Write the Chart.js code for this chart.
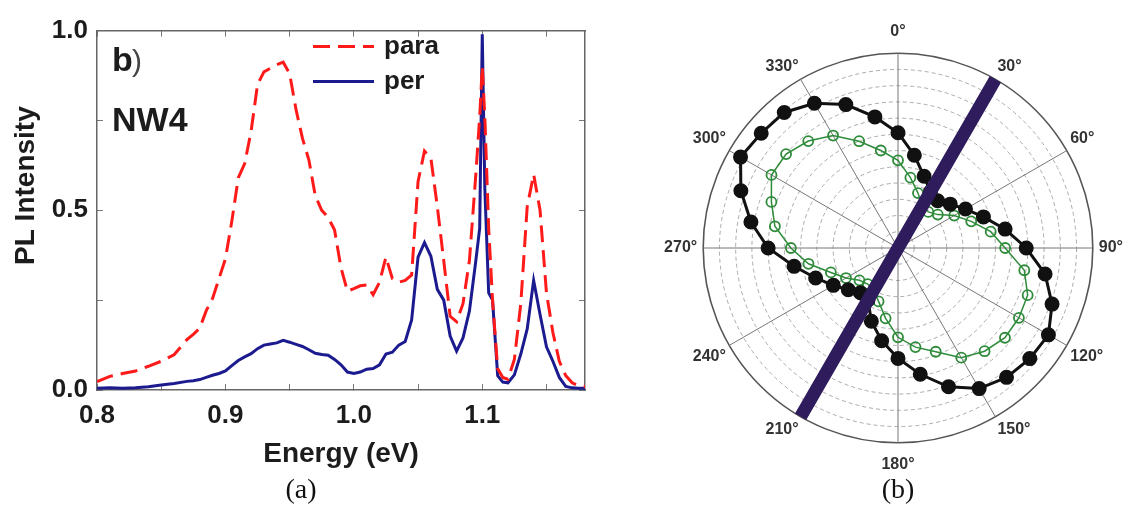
<!DOCTYPE html>
<html>
<head>
<meta charset="utf-8">
<script src="https://cdn.jsdelivr.net/npm/chart.js@4.4.1/dist/chart.umd.min.js"></script>
<style>
  html, body { margin: 0; padding: 0; background: #fff; overflow: hidden; }
  body { width: 1130px; height: 509px; position: relative; }
  #specBox { position: absolute; left: 0; top: 0; width: 600px; height: 475px; }
  #polarBox { position: absolute; left: 659px; top: 22px; width: 470px; height: 452px; }
  .cap { position: absolute; top: 473px; width: 80px; text-align: center;
         font: 28px "Liberation Serif", serif; color: #111; }
</style>
</head>
<body>
<div id="specBox"><canvas id="spec"></canvas></div>
<div id="polarBox"><canvas id="polar"></canvas></div>
<div class="cap" style="left:261px">(a)</div>
<div class="cap" style="left:858px">(b)</div>
<script>
// ---- panel (a): PL spectra of NW4 ----
var energy = [
  0.800, 0.810, 0.820, 0.830, 0.840, 0.850, 0.860, 0.870, 0.875, 0.880,
  0.885, 0.890, 0.895, 0.900, 0.905, 0.910, 0.915, 0.920, 0.925, 0.930,
  0.935, 0.940, 0.945, 0.950, 0.955, 0.960, 0.965, 0.970, 0.975, 0.980,
  0.985, 0.990, 0.995, 1.000, 1.005, 1.010, 1.015, 1.020, 1.025, 1.030,
  1.035, 1.040, 1.045, 1.050, 1.055, 1.060, 1.065, 1.070, 1.075, 1.080,
  1.085, 1.090, 1.095, 1.098, 1.100, 1.102, 1.105, 1.108, 1.112, 1.116,
  1.120, 1.125, 1.130, 1.135, 1.140, 1.145, 1.150, 1.155, 1.160, 1.165,
  1.170, 1.175, 1.180
];
var para = [
  0.023, 0.038, 0.046, 0.053, 0.066, 0.080, 0.098, 0.140, 0.155, 0.172,
  0.220, 0.255, 0.310, 0.365, 0.470, 0.590, 0.630, 0.720, 0.850, 0.885,
  0.895, 0.905, 0.912, 0.880, 0.780, 0.700, 0.640, 0.540, 0.500, 0.480,
  0.445, 0.340, 0.275, 0.282, 0.290, 0.292, 0.265, 0.300, 0.370, 0.310,
  0.300, 0.305, 0.320, 0.580, 0.665, 0.645, 0.510, 0.360, 0.205, 0.190,
  0.240, 0.360, 0.600, 0.760, 0.900, 0.760, 0.450, 0.250, 0.060, 0.035,
  0.030, 0.085, 0.240, 0.510, 0.600, 0.500, 0.270, 0.160, 0.080, 0.040,
  0.020, 0.012, 0.010
];
var per = [
  0.005, 0.006, 0.005, 0.006, 0.009, 0.014, 0.018, 0.024, 0.026, 0.029,
  0.035, 0.041, 0.046, 0.053, 0.068, 0.082, 0.092, 0.101, 0.115, 0.125,
  0.128, 0.131, 0.138, 0.133, 0.127, 0.121, 0.112, 0.102, 0.099, 0.097,
  0.085, 0.070, 0.050, 0.046, 0.050, 0.058, 0.060, 0.070, 0.100, 0.105,
  0.125, 0.135, 0.195, 0.370, 0.410, 0.372, 0.280, 0.250, 0.150, 0.108,
  0.145, 0.220, 0.360, 0.450, 0.990, 0.560, 0.270, 0.250, 0.040, 0.022,
  0.020, 0.042, 0.100, 0.170, 0.305, 0.210, 0.120, 0.080, 0.035, 0.010,
  0.006, 0.005, 0.005
];
var xTicks = [0.8, 0.85, 0.9, 0.95, 1.0, 1.05, 1.1, 1.15];
var yTicks = [0, 0.25, 0.5, 0.75, 1.0];

// ---- panel (b): polarisation dependence ----
var angles = [
  0, 10, 20, 30, 40, 50, 60, 70, 80, 90, 100, 110,
  120, 130, 140, 150, 160, 170, 180, 190, 200, 210, 220, 230,
  240, 250, 260, 270, 280, 290, 300, 310, 320, 330, 340, 350
];
var filled = [
  0.71, 0.58, 0.47, 0.40, 0.38, 0.42, 0.48, 0.56, 0.67, 0.79, 0.92, 1.01,
  1.07, 1.06, 1.04, 1.00, 0.91, 0.79, 0.68, 0.58, 0.48, 0.37, 0.36, 0.40,
  0.46, 0.54, 0.65, 0.80, 0.92, 1.03, 1.12, 1.10, 1.09, 1.03, 0.94, 0.82
];
var open = [
  0.54, 0.44, 0.36, 0.30, 0.29, 0.32, 0.40, 0.48, 0.58, 0.66, 0.79, 0.85,
  0.86, 0.86, 0.83, 0.78, 0.68, 0.62, 0.55, 0.44, 0.35, 0.30, 0.29, 0.31,
  0.37, 0.44, 0.56, 0.66, 0.77, 0.83, 0.90, 0.90, 0.86, 0.80, 0.70, 0.61
];
var wireAngles = [30, 210];
var rMax = 1.2;

var font = 'Liberation Sans';
var ink = '#1c1c1c';

function pts(ys) {
  return energy.map(function (e, i) { return { x: e, y: ys[i] }; });
}
function setTicks(list) {
  return function (s) { s.ticks = list.map(function (v) { return { value: v }; }); };
}

// legend, panel tag and y title (sits a bit above centre in the original)
var specDecor = {
  id: 'specDecor',
  afterDatasetsDraw: function (chart) {
    var ctx = chart.ctx, a = chart.chartArea;
    ctx.save();
    chart.data.datasets.forEach(function (ds, i) {
      var y = a.top + 16 + i * 35;
      ctx.strokeStyle = ds.borderColor;
      ctx.lineWidth = ds.borderWidth;
      ctx.setLineDash(ds.borderDash || []);
      ctx.beginPath();
      ctx.moveTo(a.left + 216, y);
      ctx.lineTo(a.left + 277, y);
      ctx.stroke();
      ctx.setLineDash([]);
      ctx.fillStyle = ink;
      ctx.font = 'bold 26px ' + font;
      ctx.textBaseline = 'alphabetic';
      ctx.fillText(ds.label, a.left + 287, y + 7);
    });
    ctx.fillStyle = ink;
    ctx.font = 'bold 34px ' + font;
    ctx.fillText('b', a.left + 15, a.top + 40);
    ctx.font = '30px ' + font;
    ctx.fillStyle = '#444';
    ctx.fillText(')', a.left + 35, a.top + 40);
    ctx.fillStyle = ink;
    ctx.font = 'bold 34px ' + font;
    ctx.fillText('NW4', a.left + 15, a.top + 100);

    ctx.translate(26, a.top + 155);
    ctx.rotate(-Math.PI / 2);
    ctx.textAlign = 'center';
    ctx.textBaseline = 'middle';
    ctx.font = 'bold 28px ' + font;
    ctx.fillText('PL Intensity', 0, 0);
    ctx.restore();
  }
};

var tickGrid = { drawOnChartArea: false, tickLength: -6, color: '#777', lineWidth: 1 };
var frame = { color: '#666', width: 1.5 };

new Chart(document.getElementById('spec'), {
  type: 'line',
  data: {
    datasets: [
      {
        label: 'para',
        data: pts(para),
        borderColor: '#ff1a1a',
        borderWidth: 3,
        borderDash: [17, 8],
        pointRadius: 0,
        fill: false
      },
      {
        label: 'per',
        data: pts(per),
        borderColor: '#1b1b8f',
        borderWidth: 3,
        pointRadius: 0,
        fill: false
      }
    ]
  },
  options: {
    responsive: true,
    maintainAspectRatio: false,
    animation: false,
    layout: { padding: { top: 30, right: 15, left: 0, bottom: 0 } },
    plugins: { legend: { display: false }, tooltip: { enabled: false } },
    elements: { line: { tension: 0 } },
    scales: {
      x: {
        type: 'linear', position: 'bottom', min: 0.8, max: 1.18,
        afterBuildTicks: setTicks(xTicks),
        afterFit: function (s) { s.height = 85; },
        grid: tickGrid,
        border: frame,
        ticks: {
          padding: 16, color: ink, maxRotation: 0, autoSkip: false,
          font: { family: font, size: 26, weight: 'bold' },
          callback: function (v) { return Math.round(v * 100) % 10 === 0 ? v.toFixed(1) : ''; }
        },
        title: {
          display: true, text: 'Energy (eV)', color: ink,
          font: { family: font, size: 28, weight: 'bold' },
          padding: { top: 0, bottom: 4 }
        }
      },
      xTop: {
        type: 'linear', position: 'top', min: 0.8, max: 1.18,
        afterBuildTicks: setTicks(xTicks),
        afterFit: function (s) { s.height = 0; },
        grid: tickGrid,
        border: frame,
        ticks: { display: false }
      },
      y: {
        min: 0, max: 1,
        afterBuildTicks: setTicks(yTicks),
        afterFit: function (s) { s.width = 97; },
        grid: tickGrid,
        border: frame,
        ticks: {
          padding: 15, color: ink,
          font: { family: font, size: 26, weight: 'bold' },
          callback: function (v) { return Math.round(v * 100) % 50 === 0 ? v.toFixed(1) : ''; }
        }
      },
      yRight: {
        position: 'right', min: 0, max: 1,
        afterBuildTicks: setTicks(yTicks),
        afterFit: function (s) { s.width = 0; },
        grid: tickGrid,
        border: frame,
        ticks: { display: false }
      }
    }
  },
  plugins: [specDecor]
});

new Chart(document.getElementById('polar'), {
  type: 'radar',
  data: {
    labels: angles,
    datasets: [
      {
        label: 'wire',
        data: angles.map(function (a) { return wireAngles.indexOf(a) >= 0 ? rMax : null; }),
        borderColor: '#2f1c5c',
        borderWidth: 13,
        borderCapStyle: 'butt',
        borderJoinStyle: 'bevel',
        spanGaps: true,
        pointRadius: 0,
        fill: false
      },
      {
        label: 'filled',
        data: filled,
        borderColor: '#111',
        borderWidth: 3,
        pointRadius: 6,
        pointBackgroundColor: '#111',
        pointBorderColor: '#111',
        fill: false
      },
      {
        label: 'open',
        data: open,
        borderColor: '#2e8b3a',
        borderWidth: 1.5,
        pointRadius: 5,
        pointBorderWidth: 1.8,
        pointBackgroundColor: 'rgba(0,0,0,0)',
        pointBorderColor: '#2e8b3a',
        fill: false
      }
    ]
  },
  options: {
    responsive: true,
    maintainAspectRatio: false,
    animation: false,
    layout: { padding: 0 },
    plugins: { legend: { display: false }, tooltip: { enabled: false } },
    elements: { line: { tension: 0 } },
    scales: {
      r: {
        min: 0, max: rMax,
        ticks: { display: false, stepSize: 0.1 },
        grid: {
          circular: true,
          color: function (c) { return c.tick && c.tick.value > rMax - 0.01 ? '#555' : '#aaa'; },
          lineWidth: function (c) { return c.tick && c.tick.value > rMax - 0.01 ? 1.6 : 1; }
        },
        border: {
          dash: function (c) { return c.tick && c.tick.value > rMax - 0.01 ? [] : [4, 3]; }
        },
        angleLines: {
          color: function (c) { return angles[c.index] % 30 === 0 ? '#777' : 'rgba(0,0,0,0)'; },
          lineWidth: function (c) { return angles[c.index] % 30 === 0 ? 1 : 0; }
        },
        pointLabels: {
          color: '#333',
          font: { family: font, size: 16, weight: 'bold' },
          padding: function (c) { return c.index % 18 === 0 ? 12 : (c.index % 9 === 0 ? 6 : 4); },
          callback: function (v) { return v % 30 === 0 ? v + '°' : ''; }
        }
      }
    }
  }
});
</script>
</body>
</html>
